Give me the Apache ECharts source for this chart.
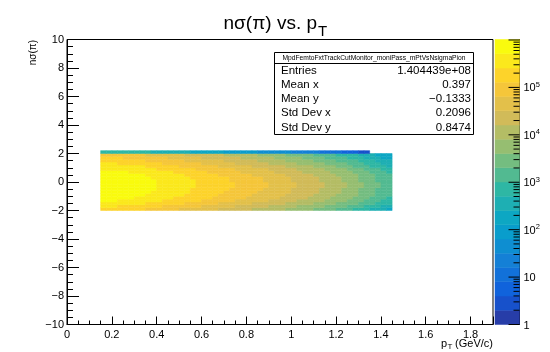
<!DOCTYPE html>
<html><head><meta charset="utf-8">
<script src="https://cdn.jsdelivr.net/npm/echarts@6/dist/echarts.min.js"></script>
<style>html,body{margin:0;padding:0;background:#fff}#c{width:550px;height:352px}</style>
</head><body><div id="c"></div>
<script>
// ---- histogram binning (pT in GeV/c, n-sigma) ----
const xBinStart = 0.15, xBinWidth = 0.025;   // 52 pT bins: 0.15 .. 1.45
const yBinStart = -2.0, yBinWidth = 0.2;     // 21 n-sigma bins: -2.0 .. 2.2
// log10(entries) per cell, rows from bottom (y=-2.0..-1.8) to top (y=2.0..2.2)
const zLog10 = [
[5.3,5.3,5.3,5.3,5.3,5.3,5.3,5.3,5.0,5.0,5.0,5.0,5.0,5.0,4.7,4.7,4.7,4.7,4.7,4.7,4.7,4.4,4.4,4.4,4.4,4.4,4.4,4.1,4.1,4.1,4.1,4.1,4.1,3.8,3.8,3.8,3.8,3.8,3.5,3.5,3.5,3.5,3.2,3.2,3.2,2.9,2.9,2.9,2.6,2.6,2.6,2.3],
[5.6,5.6,5.6,5.3,5.3,5.3,5.3,5.3,5.3,5.3,5.3,5.0,5.0,5.0,5.0,5.0,5.0,5.0,4.7,4.7,4.7,4.7,4.7,4.7,4.4,4.4,4.4,4.4,4.4,4.4,4.1,4.1,4.1,4.1,4.1,3.8,3.8,3.8,3.8,3.8,3.5,3.5,3.5,3.5,3.2,3.2,3.2,2.9,2.9,2.9,2.6,2.6],
[5.6,5.6,5.6,5.6,5.6,5.6,5.6,5.6,5.3,5.3,5.3,5.3,5.3,5.3,5.3,5.0,5.0,5.0,5.0,5.0,5.0,4.7,4.7,4.7,4.7,4.7,4.7,4.4,4.4,4.4,4.4,4.4,4.4,4.1,4.1,4.1,4.1,4.1,3.8,3.8,3.8,3.8,3.5,3.5,3.5,3.5,3.2,3.2,3.2,2.9,2.9,2.9],
[5.9,5.9,5.9,5.6,5.6,5.6,5.6,5.6,5.6,5.6,5.6,5.3,5.3,5.3,5.3,5.3,5.3,5.3,5.0,5.0,5.0,5.0,5.0,5.0,4.7,4.7,4.7,4.7,4.7,4.7,4.4,4.4,4.4,4.4,4.4,4.1,4.1,4.1,4.1,4.1,3.8,3.8,3.8,3.8,3.5,3.5,3.5,3.2,3.2,3.2,2.9,2.9],
[5.9,5.9,5.9,5.9,5.9,5.9,5.6,5.6,5.6,5.6,5.6,5.6,5.6,5.3,5.3,5.3,5.3,5.3,5.3,5.3,5.0,5.0,5.0,5.0,5.0,5.0,4.7,4.7,4.7,4.7,4.7,4.7,4.4,4.4,4.4,4.4,4.4,4.1,4.1,4.1,4.1,3.8,3.8,3.8,3.8,3.5,3.5,3.5,3.2,3.2,3.2,2.9],
[5.9,5.9,5.9,5.9,5.9,5.9,5.9,5.9,5.6,5.6,5.6,5.6,5.6,5.6,5.6,5.3,5.3,5.3,5.3,5.3,5.3,5.0,5.0,5.0,5.0,5.0,5.0,4.7,4.7,4.7,4.7,4.7,4.7,4.4,4.4,4.4,4.4,4.4,4.1,4.1,4.1,4.1,3.8,3.8,3.8,3.8,3.5,3.5,3.5,3.2,3.2,3.2],
[5.9,5.9,5.9,5.9,5.9,5.9,5.9,5.9,5.9,5.6,5.6,5.6,5.6,5.6,5.6,5.6,5.3,5.3,5.3,5.3,5.3,5.3,5.0,5.0,5.0,5.0,5.0,5.0,4.7,4.7,4.7,4.7,4.7,4.7,4.4,4.4,4.4,4.4,4.4,4.1,4.1,4.1,4.1,3.8,3.8,3.8,3.5,3.5,3.5,3.2,3.2,3.2],
[5.9,5.9,5.9,5.9,5.9,5.9,5.9,5.9,5.9,5.9,5.6,5.6,5.6,5.6,5.6,5.6,5.3,5.3,5.3,5.3,5.3,5.3,5.3,5.0,5.0,5.0,5.0,5.0,5.0,4.7,4.7,4.7,4.7,4.7,4.4,4.4,4.4,4.4,4.4,4.1,4.1,4.1,4.1,3.8,3.8,3.8,3.5,3.5,3.5,3.2,3.2,3.2],
[5.9,5.9,5.9,5.9,5.9,5.9,5.9,5.9,5.9,5.9,5.6,5.6,5.6,5.6,5.6,5.6,5.6,5.3,5.3,5.3,5.3,5.3,5.3,5.3,5.0,5.0,5.0,5.0,5.0,5.0,4.7,4.7,4.7,4.7,4.7,4.4,4.4,4.4,4.4,4.4,4.1,4.1,4.1,4.1,3.8,3.8,3.8,3.5,3.5,3.5,3.2,3.2],
[5.9,5.9,5.9,5.9,5.9,5.9,5.9,5.9,5.9,5.9,5.6,5.6,5.6,5.6,5.6,5.6,5.6,5.3,5.3,5.3,5.3,5.3,5.3,5.3,5.0,5.0,5.0,5.0,5.0,5.0,4.7,4.7,4.7,4.7,4.7,4.4,4.4,4.4,4.4,4.4,4.1,4.1,4.1,4.1,3.8,3.8,3.8,3.5,3.5,3.5,3.2,3.2],
[5.9,5.9,5.9,5.9,5.9,5.9,5.9,5.9,5.9,5.9,5.6,5.6,5.6,5.6,5.6,5.6,5.6,5.3,5.3,5.3,5.3,5.3,5.3,5.0,5.0,5.0,5.0,5.0,5.0,4.7,4.7,4.7,4.7,4.7,4.4,4.4,4.4,4.4,4.4,4.1,4.1,4.1,4.1,3.8,3.8,3.8,3.5,3.5,3.5,3.2,3.2,3.2],
[5.9,5.9,5.9,5.9,5.9,5.9,5.9,5.9,5.9,5.6,5.6,5.6,5.6,5.6,5.6,5.6,5.3,5.3,5.3,5.3,5.3,5.3,5.3,5.0,5.0,5.0,5.0,5.0,5.0,4.7,4.7,4.7,4.7,4.7,4.4,4.4,4.4,4.4,4.4,4.1,4.1,4.1,4.1,3.8,3.8,3.8,3.5,3.5,3.5,3.2,3.2,3.2],
[5.9,5.9,5.9,5.9,5.9,5.9,5.9,5.9,5.6,5.6,5.6,5.6,5.6,5.6,5.6,5.3,5.3,5.3,5.3,5.3,5.3,5.0,5.0,5.0,5.0,5.0,5.0,4.7,4.7,4.7,4.7,4.7,4.7,4.4,4.4,4.4,4.4,4.4,4.1,4.1,4.1,4.1,3.8,3.8,3.8,3.8,3.5,3.5,3.5,3.2,3.2,3.2],
[5.9,5.9,5.9,5.9,5.9,5.6,5.6,5.6,5.6,5.6,5.6,5.6,5.6,5.3,5.3,5.3,5.3,5.3,5.3,5.0,5.0,5.0,5.0,5.0,5.0,4.7,4.7,4.7,4.7,4.7,4.7,4.4,4.4,4.4,4.4,4.4,4.1,4.1,4.1,4.1,4.1,3.8,3.8,3.8,3.8,3.5,3.5,3.5,3.2,3.2,3.2,2.9],
[5.6,5.6,5.6,5.6,5.6,5.6,5.6,5.6,5.6,5.6,5.3,5.3,5.3,5.3,5.3,5.3,5.3,5.0,5.0,5.0,5.0,5.0,5.0,5.0,4.7,4.7,4.7,4.7,4.7,4.7,4.4,4.4,4.4,4.4,4.4,4.1,4.1,4.1,4.1,4.1,3.8,3.8,3.8,3.8,3.5,3.5,3.5,3.2,3.2,3.2,2.9,2.9],
[5.6,5.6,5.6,5.6,5.6,5.6,5.6,5.6,5.3,5.3,5.3,5.3,5.3,5.3,5.0,5.0,5.0,5.0,5.0,5.0,5.0,4.7,4.7,4.7,4.7,4.7,4.7,4.4,4.4,4.4,4.4,4.4,4.4,4.1,4.1,4.1,4.1,4.1,3.8,3.8,3.8,3.8,3.5,3.5,3.5,3.2,3.2,3.2,2.9,2.9,2.9,2.6],
[5.6,5.6,5.6,5.3,5.3,5.3,5.3,5.3,5.3,5.3,5.3,5.0,5.0,5.0,5.0,5.0,5.0,5.0,4.7,4.7,4.7,4.7,4.7,4.7,4.4,4.4,4.4,4.4,4.4,4.4,4.1,4.1,4.1,4.1,4.1,3.8,3.8,3.8,3.8,3.8,3.5,3.5,3.5,3.5,3.2,3.2,3.2,2.9,2.9,2.9,2.6,2.6],
[5.3,5.3,5.3,5.3,5.3,5.3,5.3,5.3,5.0,5.0,5.0,5.0,5.0,5.0,5.0,4.7,4.7,4.7,4.7,4.7,4.7,4.7,4.4,4.4,4.4,4.4,4.4,4.4,4.1,4.1,4.1,4.1,4.1,3.8,3.8,3.8,3.8,3.8,3.5,3.5,3.5,3.5,3.2,3.2,3.2,3.2,2.9,2.9,2.9,2.6,2.6,2.6],
[5.3,5.3,5.3,5.3,5.0,5.0,5.0,5.0,5.0,5.0,5.0,5.0,4.7,4.7,4.7,4.7,4.7,4.7,4.4,4.4,4.4,4.4,4.4,4.4,4.4,4.1,4.1,4.1,4.1,4.1,4.1,3.8,3.8,3.8,3.8,3.8,3.5,3.5,3.5,3.5,3.2,3.2,3.2,3.2,2.9,2.9,2.9,2.6,2.6,2.6,2.3,2.3],
[5.0,5.0,5.0,5.0,5.0,5.0,5.0,5.0,4.7,4.7,4.7,4.7,4.7,4.7,4.7,4.4,4.4,4.4,4.4,4.4,4.4,4.4,4.1,4.1,4.1,4.1,4.1,4.1,3.8,3.8,3.8,3.8,3.8,3.5,3.5,3.5,3.5,3.5,3.2,3.2,3.2,3.2,2.9,2.9,2.9,2.9,2.6,2.6,2.6,2.3,2.3,2.3],
[2.9,2.9,2.9,2.9,2.9,2.9,2.9,2.9,2.9,2.6,2.6,2.6,2.6,2.6,2.6,2.6,2.3,2.3,2.3,2.3,2.3,2.3,2.0,2.0,2.0,2.0,2.0,2.0,1.7,1.7,1.7,1.7,1.7,1.7,1.4,1.4,1.4,1.4,1.4,1.1,1.1,1.1,1.1,0.8,0.8,0.8,0.5,0.5,null,null,null,null]
];
// axes
const xMin = 0, xMax = 1.9, xInterval = 0.2;
const yMin = -10, yMax = 10, yInterval = 2;
// colour scale (log10 of entries)
const zMaxLog = 6.01, nContours = 20;
const colorbarDecades = [0, 1, 2, 3, 4, 5, 6];
const colorbarMinorMult = [2, 3, 4, 5, 6, 7, 8, 9];
// statistics box
const statTitle = 'MpdFemtoFxtTrackCutMonitor_moniPass_mPtVsNsigmaPion';
const statLabels = ['Entries', 'Mean x', 'Mean y', 'Std Dev x', 'Std Dev y'];
const statValues = ['1.404439e+08', '0.397', '\u22120.1333', '0.2096', '0.8474'];

// ROOT kBird palette
const birdStops = [0.0, 0.125, 0.25, 0.375, 0.5, 0.625, 0.75, 0.875, 1.0];
const birdRed   = [0.2082, 0.0592, 0.0780, 0.0232, 0.1802, 0.5301, 0.8186, 0.9956, 0.9764];
const birdGreen = [0.1664, 0.3599, 0.5041, 0.6419, 0.7178, 0.7492, 0.7328, 0.7862, 0.9832];
const birdBlue  = [0.5293, 0.8684, 0.8385, 0.7914, 0.6425, 0.4662, 0.3499, 0.1968, 0.0539];
function birdColor(f) {
  let k = 0;
  while (k < birdStops.length - 2 && f > birdStops[k + 1]) k++;
  const t = (f - birdStops[k]) / (birdStops[k + 1] - birdStops[k]);
  const c = a => Math.round(255 * (a[k] + (a[k + 1] - a[k]) * t));
  return 'rgb(' + c(birdRed) + ',' + c(birdGreen) + ',' + c(birdBlue) + ')';
}
const bandColors = [];
for (let i = 0; i < nContours; i++) {
  const idx = Math.floor((i + 0.99) * 255 / nContours);
  bandColors.push(birdColor(Math.min(idx, 254) / 254));
}
const bandStep = zMaxLog / nContours;
function bandOf(v) { return Math.max(0, Math.min(nContours - 1, Math.floor(v / bandStep))); }

// cells
const cells = [];
zLog10.forEach((row, r) => row.forEach((v, c) => {
  if (v == null) return;
  const x0 = xBinStart + c * xBinWidth, y0 = yBinStart + r * yBinWidth;
  cells.push([x0, x0 + xBinWidth, y0, y0 + yBinWidth, v]);
}));
const bands = [];
for (let i = 0; i < nContours; i++) bands.push([i * bandStep, (i + 1) * bandStep, i]);
const cbTicks = [];
colorbarDecades.forEach(d => cbTicks.push([d, 1]));
colorbarDecades.slice(0, 6).forEach(d => colorbarMinorMult.forEach(m => cbTicks.push([d + Math.log10(m), 0])));

const FONT = '"Liberation Sans", Arial, Helvetica, sans-serif';
const chart = echarts.init(document.getElementById('c'), null, {renderer: 'canvas'});
const blk = '#000';
chart.setOption({
  animation: false,
  backgroundColor: '#fff',
  textStyle: {fontFamily: FONT},
  grid: [
    {left: 67, top: 39.5, width: 426, height: 285, show: true, borderColor: blk, borderWidth: 1, backgroundColor: 'transparent', containLabel: false},
    {left: 495, top: 39.5, width: 24.5, height: 285, show: false, containLabel: false}
  ],
  xAxis: [
    {gridIndex: 0, type: 'value', min: xMin, max: xMax, interval: xInterval,
     axisLine: {show: true, onZero: false, lineStyle: {color: blk, width: 1}},
     axisTick: {show: true, inside: true, length: 8, lineStyle: {color: blk, width: 1}},
     minorTick: {show: true, splitNumber: 4, length: 4, lineStyle: {color: blk, width: 1}},
     splitLine: {show: false}, minorSplitLine: {show: false},
     axisLabel: {color: blk, fontSize: 11, fontFamily: FONT, margin: 5, showMaxLabel: false, showMinLabel: true}},
    {gridIndex: 1, type: 'value', min: 0, max: 1, show: false}
  ],
  yAxis: [
    {gridIndex: 0, type: 'value', min: yMin, max: yMax, interval: yInterval,
     axisLine: {show: true, onZero: false, lineStyle: {color: blk, width: 1}},
     axisTick: {show: true, inside: true, length: 12, lineStyle: {color: blk, width: 1}},
     minorTick: {show: true, splitNumber: 4, length: 6, lineStyle: {color: blk, width: 1}},
     splitLine: {show: false}, minorSplitLine: {show: false},
     axisLabel: {color: blk, fontSize: 11, fontFamily: FONT, margin: 3,
       formatter: v => String(v).replace('-', '\u2212')}},
    {gridIndex: 1, type: 'value', position: 'right', min: 0, max: zMaxLog, interval: 1,
     axisLine: {show: true, onZero: false, lineStyle: {color: blk, width: 1}},
     axisTick: {show: false}, splitLine: {show: false},
     axisLabel: {show: true, margin: 4, color: blk, showMaxLabel: false,
       formatter: v => {
         if (Math.abs(v - Math.round(v)) > 1e-6) return '';
         const n = Math.round(v);
         if (n >= 6) return '';
         if (n === 0) return '{b|1}';
         if (n === 1) return '{b|10}';
         return '{b|10}{s|' + n + '}';
       },
       rich: {
         b: {fontSize: 11, fontFamily: FONT, color: blk, padding: [2, 0, 0, 0]},
         s: {fontSize: 7.5, fontFamily: FONT, color: blk, verticalAlign: 'top'}
       }}}
  ],
  series: [
    {type: 'custom', xAxisIndex: 0, yAxisIndex: 0, data: cells, encode: {x: [0, 1], y: [2, 3]},
     renderItem: (params, api) => {
       const p0 = api.coord([api.value(0), api.value(3)]);
       const p1 = api.coord([api.value(1), api.value(2)]);
       const col = bandColors[bandOf(api.value(4))];
       return {type: 'rect', shape: {x: p0[0], y: p0[1], width: p1[0] - p0[0], height: p1[1] - p0[1]},
               style: {fill: col, stroke: col, lineWidth: 0.5}};
     }},
    {type: 'custom', xAxisIndex: 1, yAxisIndex: 1, data: bands, z: 2,
     renderItem: (params, api) => {
       const p0 = api.coord([0, api.value(1)]);
       const p1 = api.coord([1, api.value(0)]);
       const col = bandColors[api.value(2)];
       return {type: 'rect', shape: {x: p0[0], y: p0[1], width: p1[0] - p0[0], height: p1[1] - p0[1]},
               style: {fill: col, stroke: col, lineWidth: 0.5}};
     }},
    {type: 'custom', xAxisIndex: 1, yAxisIndex: 1, data: cbTicks, z: 5,
     renderItem: (params, api) => {
       const p = api.coord([1, api.value(0)]);
       const len = api.value(1) === 1 ? 11 : 6;
       return {type: 'line', shape: {x1: p[0] - len, y1: p[1], x2: p[0], y2: p[1]},
               style: {stroke: blk, lineWidth: 1}};
     }}
  ],
  graphic: [
    {type: 'text', x: 317, y: 23.5, style: {text: 'n\u03c3(\u03c0) vs. p', font: '19px ' + FONT, fill: blk, textAlign: 'right', align: 'right', textVerticalAlign: 'middle', verticalAlign: 'middle'}},
    {type: 'text', x: 318, y: 32, style: {text: 'T', font: '15px ' + FONT, fill: blk, textAlign: 'left', align: 'left', textVerticalAlign: 'middle', verticalAlign: 'middle'}},
    {type: 'text', x: 33, y: 40, rotation: Math.PI / 2, style: {text: 'n\u03c3(\u03c0)', font: '10px ' + FONT, fill: blk, textAlign: 'right', align: 'right', textVerticalAlign: 'middle', verticalAlign: 'middle'}},
    {type: 'text', x: 441, y: 343.5, style: {text: 'p', font: '11px ' + FONT, fill: blk, textAlign: 'left', align: 'left', textVerticalAlign: 'middle', verticalAlign: 'middle'}},
    {type: 'text', x: 447.5, y: 347, style: {text: 'T', font: '8px ' + FONT, fill: blk, textAlign: 'left', align: 'left', textVerticalAlign: 'middle', verticalAlign: 'middle'}},
    {type: 'text', x: 493, y: 344, style: {text: '(GeV/c)', font: '11px ' + FONT, fill: blk, textAlign: 'right', align: 'right', textVerticalAlign: 'middle', verticalAlign: 'middle'}},
    {type: 'rect', shape: {x: 274.5, y: 52.5, width: 199, height: 82}, style: {fill: '#fff', stroke: blk, lineWidth: 1}, z: 10},
    {type: 'line', shape: {x1: 274.5, y1: 63.5, x2: 473.5, y2: 63.5}, style: {stroke: blk, lineWidth: 1}, z: 11},
    {type: 'text', x: 374, y: 58, z: 11, style: {text: statTitle, font: '6.7px ' + FONT, fill: blk, textAlign: 'center', align: 'center', textVerticalAlign: 'middle', verticalAlign: 'middle'}}
  ].concat(statLabels.map((t, i) => ({type: 'text', x: 281, y: 70.6 + i * 14.2, z: 11,
      style: {text: t, font: '11.5px ' + FONT, fill: blk, textAlign: 'left', align: 'left', textVerticalAlign: 'middle', verticalAlign: 'middle'}})))
   .concat(statValues.map((t, i) => ({type: 'text', x: 471, y: 70.6 + i * 14.2, z: 11,
      style: {text: t, font: '11.5px ' + FONT, fill: blk, textAlign: 'right', align: 'right', textVerticalAlign: 'middle', verticalAlign: 'middle'}})))
});
</script>
</body></html>
